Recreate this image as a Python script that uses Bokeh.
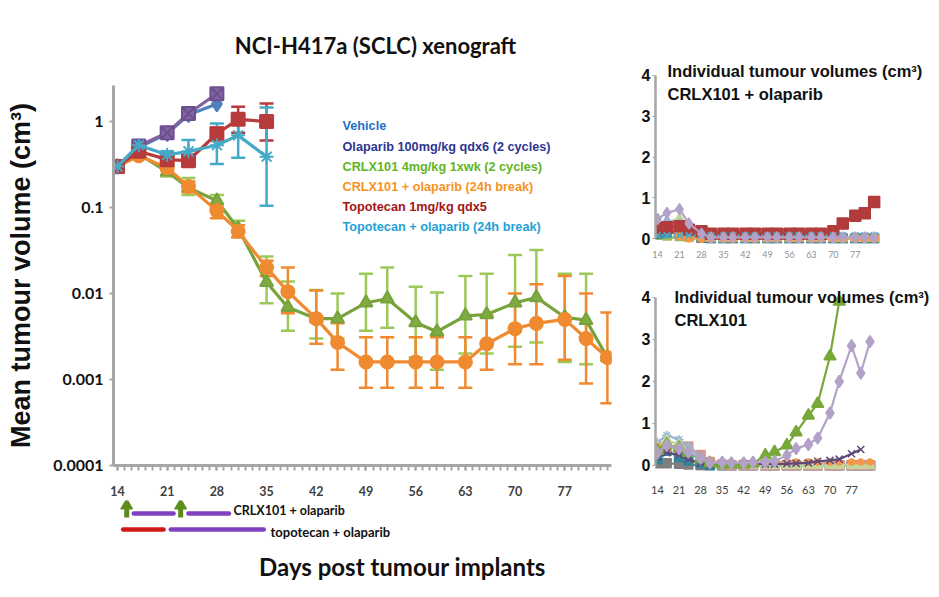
import math
from bokeh.plotting import figure
from bokeh.models import Range1d, FixedTicker, Whisker, TeeHead, ColumnDataSource
from bokeh.layouts import row, column
from bokeh.embed import file_html
from bokeh.resources import INLINE
from bokeh.core.properties import value

# ---------------- data ----------------
days = [14, 17, 21, 24, 28, 31, 35, 38, 42, 45, 49, 52, 56, 59, 63, 66, 70, 73, 77, 80, 83]
x_ticks = [14, 21, 28, 35, 42, 49, 56, 63, 70, 77]
y_ticks = [0.0001, 0.001, 0.01, 0.1, 1]
y_tick_labels = ["0.0001", "0.001", "0.01", "0.1", "1"]
small_y_ticks = [0, 1, 2, 3, 4]

series_names = ["Vehicle", "Olaparib 100mg/kg qdx6 (2 cycles)", "CRLX101 4mg/kg 1xwk (2 cycles)",
                "CRLX101 + olaparib (24h break)", "Topotecan 1mg/kg qdx5", "Topotecan + olaparib (24h break)"]
name_colors = ["#1f6fc6", "#2f3591", "#5fb524", "#f7921e", "#a31515", "#1fa2d6"]

vehicle = [0.30, 0.50, 0.72, 1.20, 1.60]
olaparib = [0.30, 0.52, 0.74, 1.24, 2.10]

crlx = [0.30, 0.42, 0.26, 0.17, 0.12, 0.057, 0.0135, 0.0069, 0.0051, 0.0051, 0.0078, 0.0087,
        0.0046, 0.0036, 0.0055, 0.0057, 0.0078, 0.009, 0.0053, 0.0049, 0.0018]
crlx_hi = [0.30, 0.45, 0.30, 0.22, 0.14, 0.07, 0.027, 0.0138, 0.011, 0.010, 0.017, 0.020,
           0.012, 0.0103, 0.016, 0.017, 0.028, 0.032, 0.017, 0.017, 0.0018]
crlx_lo = [0.30, 0.40, 0.23, 0.14, 0.10, 0.045, 0.0077, 0.0037, 0.003, 0.003, 0.0037, 0.004,
           0.0018, 0.0013, 0.002, 0.002, 0.0024, 0.0027, 0.0016, 0.0015, 0.0018]

combo = [0.30, 0.40, 0.29, 0.175, 0.092, 0.053, 0.020, 0.0105, 0.0051, 0.0027, 0.0016, 0.0016,
         0.0016, 0.0016, 0.0016, 0.0026, 0.0039, 0.0045, 0.005, 0.003, 0.0018]
combo_hi = [0.30, 0.43, 0.31, 0.20, 0.11, 0.062, 0.024, 0.020, 0.0108, 0.0045, 0.0031, 0.0031,
            0.0031, 0.0031, 0.0031, 0.0055, 0.010, 0.0128, 0.016, 0.010, 0.006]
combo_lo = [0.30, 0.37, 0.27, 0.15, 0.075, 0.045, 0.016, 0.0059, 0.0026, 0.0013, 0.0008, 0.0008,
            0.0008, 0.0008, 0.0008, 0.0013, 0.0015, 0.0015, 0.0017, 0.0009, 0.00053]

topo = [0.30, 0.45, 0.36, 0.35, 0.72, 1.06, 1.00]
topo_hi = [0.30, 0.47, 0.40, 0.40, 0.85, 1.48, 1.62]
topo_lo = [0.30, 0.43, 0.33, 0.31, 0.60, 0.74, 0.60]

topo_ola = [0.30, 0.53, 0.41, 0.45, 0.53, 0.69, 0.39]
topo_ola_hi = [0.30, 0.56, 0.45, 0.61, 0.95, 1.05, 1.45]
topo_ola_lo = [0.30, 0.50, 0.37, 0.36, 0.32, 0.38, 0.105]

# dosing schedule (days)
crlx_dose_days = [15.3, 22.9]
crlx_ola_start = [16.3, 24.0]
crlx_ola_end = [21.9, 29.7]
topo_start = [14.8]
topo_end = [20.5]
topo_ola_start = [21.5]
topo_ola_end = [34.6]

# individual tumour volumes: CRLX101 + olaparib
tr_m1 = [0.25, 0.28, 0.30, 0.22, 0.18, 0.12, 0.12, 0.12, 0.12, 0.12, 0.12, 0.12, 0.12, 0.12, 0.12, 0.12, 0.18, 0.37, 0.56, 0.62, 0.90]
tr_m2 = [0.48, 0.63, 0.72, 0.37, 0.12, 0.03, 0.03, 0.03, 0.03, 0.03, 0.03, 0.03, 0.03, 0.03, 0.03, 0.03, 0.03, 0.03, 0.03, 0.03, 0.03]
tr_m3 = [0.22, 0.30, 0.08, 0.03, 0.02, 0.02, 0.02, 0.02, 0.02, 0.02, 0.02, 0.02, 0.02, 0.02, 0.02, 0.02, 0.02, 0.02, 0.02, 0.02, 0.02]
tr_m4 = [0.12, 0.15, 0.13, 0.10, 0.02, 0.0, 0.0, 0.0, 0.0, 0.0, 0.0, 0.0, 0.0, 0.0, 0.0, 0.0, 0.0, 0.0, 0.0, 0.0, 0.0]
tr_m5 = [0.35, 0.40, 0.50, 0.28, 0.05, 0.0, 0.0, 0.0, 0.0, 0.0, 0.0, 0.0, 0.0, 0.0, 0.0, 0.0, 0.0, 0.0, 0.0, 0.0, 0.0]
tr_m6 = [0.30, 0.45, 0.38, 0.15, 0.04, 0.02, 0.02, 0.02, 0.02, 0.02, 0.02, 0.02, 0.02, 0.02, 0.02, 0.02, 0.02, 0.02, 0.02, 0.02, 0.02]
tr_m7 = [0.08, 0.08, 0.08, 0.08, 0.08, 0.08, 0.08, 0.08, 0.08, 0.08, 0.08, 0.08, 0.08, 0.08, 0.08, 0.08, 0.08, 0.08, 0.08, 0.08, 0.08]
tr_m8 = [0.05, 0.03, 0.02, 0.0, 0.0, 0.0, 0.0, 0.0, 0.0, 0.0, 0.0, 0.0, 0.0, 0.0, 0.0, 0.0, 0.0, 0.0, 0.0, 0.0, 0.0]

# individual tumour volumes: CRLX101
br_m1 = [0.30, 0.48, 0.40, 0.32, 0.17, 0.06, 0.08, 0.06, 0.06, 0.08, 0.08, 0.10, 0.24, 0.40, 0.50, 0.65, 1.25, 2.00, 2.85, 2.20, 2.95]
br_m2 = [0.35, 0.50, 0.42, 0.30, 0.15, 0.06, 0.03, 0.02, 0.02, 0.05, 0.24, 0.32, 0.48, 0.79, 1.19, 1.47, 2.60, 3.90]
br_m3 = [0.20, 0.30, 0.25, 0.15, 0.05, 0.02, 0.02, 0.03, 0.04, 0.04, 0.03, 0.03, 0.04, 0.05, 0.06, 0.10, 0.12, 0.15, 0.28, 0.38]
br_m4 = [0.45, 0.40, 0.35, 0.30, 0.15, 0.10, 0.08, 0.08, 0.08, 0.08, 0.08, 0.08, 0.08, 0.08, 0.08, 0.08, 0.08, 0.08, 0.08, 0.08, 0.08]
br_m5 = [0.55, 0.72, 0.62, 0.45, 0.20, 0.05, 0.03, 0.02, 0.02, 0.02, 0.02, 0.02, 0.02, 0.02, 0.02, 0.02, 0.02, 0.02, 0.02, 0.02, 0.02]
br_m6 = [0.40, 0.45, 0.42, 0.45, 0.25, 0.08, 0.02, 0.0, 0.0, 0.0, 0.0, 0.0, 0.0, 0.0, 0.0, 0.0, 0.0, 0.0, 0.0, 0.0, 0.0]
br_m7 = [0.45, 0.60, 0.50, 0.35, 0.15, 0.05, 0.0, 0.0, 0.0, 0.0, 0.0, 0.0, 0.0, 0.0, 0.0, 0.0, 0.0, 0.0, 0.0, 0.0, 0.0]
br_m8 = [0.15, 0.35, 0.20, 0.12, 0.05, 0.0, 0.0, 0.0, 0.0, 0.0, 0.0, 0.0, 0.0, 0.0, 0.0, 0.0, 0.0, 0.0, 0.0, 0.0, 0.0]
br_m9 = [0.05, 0.05, 0.04, 0.02, 0.0, 0.0, 0.0, 0.0, 0.0, 0.0, 0.0, 0.0, 0.0, 0.0, 0.0, 0.0, 0.0, 0.0, 0.0, 0.0, 0.0]

# ---------------- layout constants (page pixels) ----------------
LEFT_W = 633
TITLE_H, MAIN_H, SCHED_H = 60, 440, 89
RIGHT_W = 298
FRAME_L = 113
FRAME_W = 498
X_START = 13.44
PX_PER_DAY = 7.1
Y_TOP = 2.622
PX_PER_DEC = 86.0
FRAME_TOP = 85


def mx(px):
    return X_START + (px - FRAME_L) / PX_PER_DAY


def my(py):
    return 10 ** (math.log10(Y_TOP) - (py - FRAME_TOP) / PX_PER_DEC)


AXIS_GREY = "#a6a6a6"
INK = "#111111"

# ---------------- main chart ----------------
p = figure(width=LEFT_W, height=MAIN_H, y_axis_type="log",
           x_range=Range1d(X_START, X_START + FRAME_W / PX_PER_DAY),
           y_range=Range1d(9.999e-5, Y_TOP),
           output_backend="svg", toolbar_location=None,
           min_border_left=FRAME_L, min_border_right=LEFT_W - FRAME_L - FRAME_W,
           min_border_top=FRAME_TOP - TITLE_H, min_border_bottom=MAIN_H - (FRAME_TOP - TITLE_H) - 380)
p.grid.visible = False
p.outline_line_color = None

p.xaxis.ticker = FixedTicker(ticks=x_ticks, minor_ticks=list(range(14, 84)))
p.xaxis.axis_line_color = AXIS_GREY
p.xaxis.axis_line_width = 3
p.xaxis.major_tick_line_color = AXIS_GREY
p.xaxis.major_tick_line_width = 2
p.xaxis.major_tick_out = 5
p.xaxis.major_tick_in = 0
p.xaxis.minor_tick_line_color = AXIS_GREY
p.xaxis.minor_tick_line_width = 2
p.xaxis.minor_tick_out = 5
p.xaxis.minor_tick_in = 0
p.xaxis.major_label_text_font = "Lato"
p.xaxis.major_label_text_font_style = "bold"
p.xaxis.major_label_text_font_size = "12.5px"
p.xaxis.major_label_text_color = "#404040"
p.xaxis.major_label_standoff = 15

p.yaxis.ticker = FixedTicker(ticks=y_ticks, minor_ticks=[])
p.yaxis.major_label_overrides = dict(zip(y_ticks, y_tick_labels))
p.yaxis.axis_line_color = AXIS_GREY
p.yaxis.axis_line_width = 3
p.yaxis.major_tick_line_color = AXIS_GREY
p.yaxis.major_tick_line_width = 2
p.yaxis.major_tick_out = 4
p.yaxis.major_tick_in = 0
p.yaxis.minor_tick_line_color = None
p.yaxis.major_label_text_font = "Lato"
p.yaxis.major_label_text_font_style = "bold"
p.yaxis.major_label_text_font_size = "16px"
p.yaxis.major_label_text_color = INK
p.yaxis.major_label_standoff = 6
p.yaxis.axis_label = "Mean tumour volume (cm³)"
p.yaxis.axis_label_text_font = "Liberation Sans"
p.yaxis.axis_label_text_font_style = "bold"
p.yaxis.axis_label_text_font_size = "27px"
p.yaxis.axis_label_text_color = INK
p.yaxis.axis_label_standoff = 14


def add_series(xs, ys, hi, lo, color, bar_color, marker, size, fill=None, mline=None):
    src = ColumnDataSource(dict(x=xs, y=ys, hi=hi if hi else ys, lo=lo if lo else ys))
    if hi:
        w = Whisker(base="x", upper="hi", lower="lo", source=src, line_color=bar_color, line_width=2.5,
                    upper_head=TeeHead(size=14, line_color=bar_color, line_width=2.5),
                    lower_head=TeeHead(size=14, line_color=bar_color, line_width=2.5))
        p.add_layout(w)
    p.line("x", "y", source=src, line_color=color, line_width=3.2)
    p.scatter("x", "y", source=src, marker=marker, size=size, fill_color=fill or color,
              line_color=mline or color, line_width=2)


add_series(days, crlx, crlx_hi, crlx_lo, "#78a33c", "#9cc85a", "triangle", 13, fill="#7fab40")
add_series(days, combo, combo_hi, combo_lo, "#f08a30", "#f08a30", "circle", 13, fill="#f08a30")
add_series(days[:5], vehicle, None, None, "#4f81bd", None, "diamond", 15, fill="#4f81bd")
add_series(days[:5], olaparib, None, None, "#8064a2", None, "square_x", 13, fill="#8064a2", mline="#6b4f8f")
add_series(days[:7], topo, topo_hi, topo_lo, "#b83b3b", "#b83b3b", "square", 13, fill="#b83b3b")
add_series(days[:7], topo_ola, topo_ola_hi, topo_ola_lo, "#45aac8", "#45aac8", "asterisk", 14)

# legend as coloured text
leg_src = ColumnDataSource(dict(
    x=[mx(342)] * len(series_names),
    y=[my(126 + 20.2 * i) for i in range(len(series_names))],
    text=series_names, color=name_colors))
p.text("x", "y", text="text", source=leg_src, text_color="color", text_font=value("Liberation Sans"),
       text_font_style="bold", text_font_size="12.7px", text_baseline="middle", text_align="left")


def strip(height, y0):
    f = figure(width=LEFT_W, height=height, x_range=p.x_range, y_range=Range1d(height, 0),
               output_backend="svg", toolbar_location=None, x_axis_location=None, y_axis_location=None,
               min_border_left=FRAME_L, min_border_right=LEFT_W - FRAME_L - FRAME_W,
               min_border_top=0, min_border_bottom=0)
    f.grid.visible = False
    f.outline_line_color = None
    return f, (lambda py: py - y0)


# ---------------- title strip ----------------
t, ty = strip(TITLE_H, 0)
t.text(x=[mx(375)], y=[ty(45)], text=["NCI-H417a (SCLC) xenograft"], text_font=value("Lato"),
       text_font_style="bold", text_font_size="22px", text_baseline="middle", text_align="center",
       text_color=INK)

# ---------------- schedule strip under the main chart ----------------
s, sy = strip(SCHED_H, TITLE_H + MAIN_H)
s.segment(x0=crlx_dose_days, y0=[sy(517)] * 2, x1=crlx_dose_days, y1=[sy(507)] * 2,
          line_color="#5b8c1c", line_width=5)
s.scatter(x=crlx_dose_days, y=[sy(505)] * 2, marker="triangle", size=12,
          fill_color="#5b8c1c", line_color="#5b8c1c")
s.segment(x0=crlx_ola_start, y0=[sy(513)] * 2, x1=crlx_ola_end, y1=[sy(513)] * 2,
          line_color="#8040c0", line_width=4.5, line_cap="round")
s.segment(x0=topo_start, y0=[sy(529)], x1=topo_end, y1=[sy(529)],
          line_color="#d01818", line_width=4.5, line_cap="round")
s.segment(x0=topo_ola_start, y0=[sy(529)], x1=topo_ola_end, y1=[sy(529)],
          line_color="#8040c0", line_width=4.5, line_cap="round")
s.text(x=[mx(233)], y=[sy(510)], text=["CRLX101 + olaparib"], text_font=value("Lato"),
       text_font_style="bold", text_font_size="12.5px", text_baseline="middle", text_align="left",
       text_color=INK)
s.text(x=[mx(270)], y=[sy(531)], text=["topotecan + olaparib"], text_font=value("Lato"),
       text_font_style="bold", text_font_size="13px", text_baseline="middle", text_align="left",
       text_color=INK)
s.text(x=[mx(402)], y=[sy(566)], text=["Days post tumour implants"], text_font=value("Lato"),
       text_font_style="bold", text_font_size="24px", text_baseline="middle", text_align="center",
       text_color=INK)


# ---------------- individual panels ----------------
def small_panel(height, top_b, bottom_b, x_start, ppd, ppu, label_size, label_color, standoff):
    frame_h = height - top_b - bottom_b
    frame_w = RIGHT_W - 22
    y_end = -0.12 + frame_h / ppu
    f = figure(width=RIGHT_W, height=height, x_range=Range1d(x_start, x_start + frame_w / ppd),
               y_range=Range1d(-0.12, y_end), output_backend="svg", toolbar_location=None,
               min_border_left=22, min_border_right=0,
               min_border_top=top_b, min_border_bottom=bottom_b)
    f.grid.visible = False
    f.outline_line_color = None
    f.yaxis.ticker = FixedTicker(ticks=small_y_ticks, minor_ticks=[])
    f.yaxis.bounds = (0, 4)
    f.yaxis.axis_line_color = AXIS_GREY
    f.yaxis.axis_line_width = 2.5
    f.yaxis.major_tick_line_color = AXIS_GREY
    f.yaxis.major_tick_out = 3
    f.yaxis.major_tick_in = 0
    f.yaxis.minor_tick_line_color = None
    f.yaxis.major_label_text_font = "Liberation Sans"
    f.yaxis.major_label_text_font_style = "bold"
    f.yaxis.major_label_text_font_size = "16px"
    f.yaxis.major_label_text_color = INK
    f.yaxis.major_label_standoff = 2
    f.xaxis.ticker = FixedTicker(ticks=x_ticks, minor_ticks=[])
    f.xaxis.axis_line_color = None
    f.xaxis.major_tick_line_color = None
    f.xaxis.minor_tick_line_color = None
    f.xaxis.major_label_text_font = "Lato"
    f.xaxis.major_label_text_font_size = label_size
    f.xaxis.major_label_text_color = label_color
    f.xaxis.major_label_standoff = standoff
    return f


def ind(f, ys, color, marker, dash="solid", size=9):
    xs = days[:len(ys)]
    f.line(xs, ys, line_color=color, line_width=2.2, line_dash=dash)
    f.scatter(xs, ys, marker=marker, size=size, fill_color=color, line_color=color, line_width=1.5)


def panel_titles(f, x_start, ppd, ppu, px0, py_zero, px, lines):
    for py, txt in lines:
        f.text(x=[x_start + (px - px0) / ppd], y=[(py_zero - py) / ppu], text=[txt],
               text_font=value("Liberation Sans"), text_font_style="bold", text_font_size="16.5px",
               text_baseline="middle", text_align="left", text_color=INK)


tr = small_panel(270, 55, 27, 13.36, 3.14, 40.8, "9px", "#909090", 1)
ind(tr, tr_m8, "#9bbb59", "triangle")
ind(tr, tr_m4, "#31859c", "square")
ind(tr, tr_m5, "#c3d69b", "triangle")
ind(tr, tr_m6, "#95b3d7", "diamond")
ind(tr, tr_m3, "#f79646", "circle")
ind(tr, tr_m1, "#b23b3b", "square", size=11)
ind(tr, tr_m7, "#4bacc6", "x", dash="2 2")
ind(tr, tr_m2, "#b3a2c7", "diamond", size=11)
panel_titles(tr, 13.36, 3.14, 40.8, 655, 238, 667,
             [(70, "Individual tumour volumes (cm³)"), (93, "CRLX101 + olaparib")])

br = small_panel(319, 10, 119, 13.35, 3.08, 42.0, "11px", "#404040", 9)
ind(br, br_m9, "#7f7f7f", "square")
ind(br, br_m8, "#31859c", "square")
ind(br, br_m6, "#d99694", "square")
ind(br, br_m5, "#95b3d7", "asterisk")
ind(br, br_m7, "#c3d69b", "triangle", size=10)
ind(br, br_m4, "#f79646", "circle", dash="2 2", size=6)
ind(br, br_m3, "#5f497a", "x", size=10)
ind(br, br_m2, "#77a83a", "triangle", size=12)
ind(br, br_m1, "#b3a2c7", "diamond", size=12)
panel_titles(br, 13.35, 3.08, 42.0, 655, 465 - 270, 674,
             [(297 - 270, "Individual tumour volumes (cm³)"), (320 - 270, "CRLX101")])

layout = row(column(t, p, s), column(tr, br))
open("out.html", "w").write(file_html(layout, INLINE))
